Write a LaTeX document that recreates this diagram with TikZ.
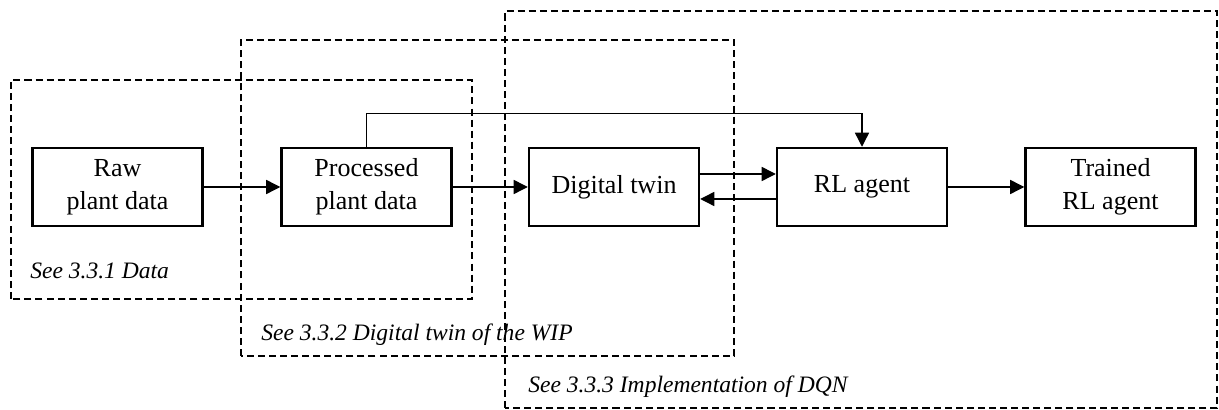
\documentclass[tikz,border=0pt]{standalone}
\usepackage{fontspec}
\setmainfont{Liberation Serif}
\usepackage{tikz}
\usetikzlibrary{arrows.meta}
\tikzset{
  block/.style={draw=black, line width=1.4pt, minimum width=3.4cm, minimum height=1.56cm,
    align=center, inner sep=0pt, font=\fontsize{14.8}{18.8}\selectfont},
  groupbox/.style={draw=black, line width=1pt, dash pattern=on 4pt off 2.3pt},
  conn/.style={draw=black, line width=0.75pt, -{Triangle[length=8pt,width=8pt]}},
  seelbl/.style={anchor=base west, inner sep=0pt, font=\fontsize{13.4}{16}\selectfont\itshape}
}
\begin{document}
\begin{tikzpicture}
  \useasboundingbox (0,0) rectangle (24.38,8.2);

  % section frames
  \draw[groupbox] (0.22,2.22) rectangle (9.44,6.6);
  \draw[groupbox] (4.82,1.08) rectangle (14.68,7.4);
  \draw[groupbox] (10.10,0.04) rectangle (24.34,7.98);

  % pipeline blocks
  \node[block] (raw)  at (2.35,4.46)  {Raw\\plant data};
  \node[block] (proc) at (7.33,4.46)  {Processed\\plant data};
  \node[block] (twin) at (12.28,4.46) {Digital twin};
  \node[block] (rl)   at (17.24,4.46) {RL agent};
  \node[block] (done) at (22.21,4.46) {Trained\\RL agent};

  \draw[conn] (raw) -- (proc);
  \draw[conn] (proc) -- (twin);
  \draw[conn] ([yshift=0.26cm]twin.east) -- ([yshift=0.26cm]rl.west);
  \draw[conn] ([yshift=-0.24cm]rl.west) -- ([yshift=-0.24cm]twin.east);
  \draw[conn] (rl) -- (done);
  \draw[conn] (proc.north) -- ++(0,0.66) -| (rl.north);

  \node[seelbl] (see1) at (0.60,2.62) {See 3.3.1 Data};
  \node[seelbl] (see2) at (5.22,1.38) {See 3.3.2 Digital twin of the WIP};
  \node[seelbl] (see3) at (10.56,0.34) {See 3.3.3 Implementation of DQN};
\end{tikzpicture}
\end{document}
